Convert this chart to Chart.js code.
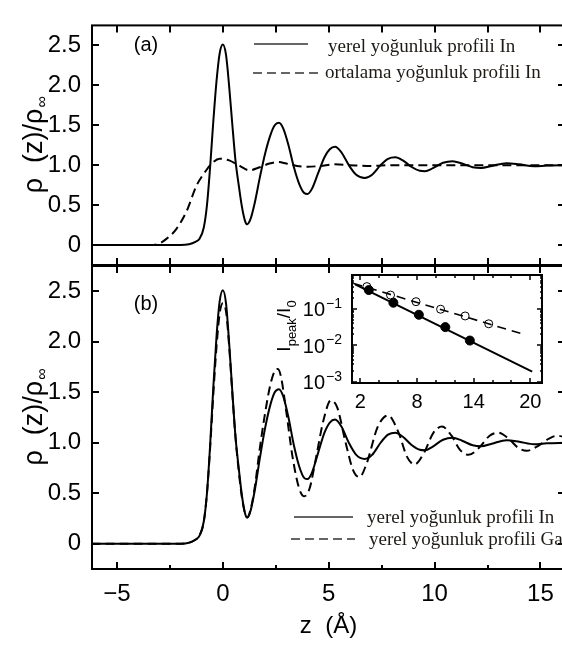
<!DOCTYPE html>
<html><head><meta charset="utf-8">
<script src="https://cdn.jsdelivr.net/npm/chart.js@4.4.0/dist/chart.umd.min.js"></script>
<style>
html,body{margin:0;padding:0;background:#fff;overflow:hidden;width:562px;height:647px;}
#wrap{position:relative;width:562px;height:647px;overflow:hidden;background:#fff;}
canvas{position:absolute;}
</style></head><body>
<div id="wrap">
<canvas id="cA" width="570" height="647" style="left:0;top:0"></canvas>
<canvas id="cB" width="570" height="647" style="left:0;top:0"></canvas>
<canvas id="cC" width="290" height="150" style="left:270px;top:265px"></canvas>
</div>
<script>
// ---- data ----
const zIn   = [-6.2,-2.0,-1.6,-1.3,-1.1,-0.9,-0.75,-0.6,-0.45,-0.3,-0.15,0,0.15,0.3,0.45,0.6,0.75,0.9,1.05,1.15,1.3,1.5,1.75,2.0,2.25,2.45,2.65,2.85,3.1,3.35,3.6,3.85,4.0,4.2,4.5,4.8,5.05,5.3,5.6,5.95,6.3,6.7,7.05,7.45,7.8,8.15,8.5,8.9,9.3,9.55,9.9,10.4,10.85,11.3,11.8,12.2,12.7,13.4,14.0,14.7,15.3,16.2];
const rhoIn = [0,0,0.01,0.04,0.08,0.22,0.5,0.98,1.55,2.05,2.4,2.51,2.38,1.98,1.5,1.05,0.75,0.48,0.3,0.26,0.32,0.52,0.85,1.15,1.38,1.5,1.53,1.46,1.25,0.98,0.77,0.65,0.64,0.7,0.9,1.1,1.2,1.23,1.16,1.0,0.88,0.84,0.88,1.0,1.08,1.1,1.06,0.98,0.93,0.925,0.96,1.03,1.05,1.02,0.975,0.965,0.99,1.025,1.01,0.985,0.995,1.0];

const zAvg   = [-6.2,-3.4,-3.0,-2.65,-2.2,-1.7,-1.25,-0.8,-0.45,-0.15,0.3,0.8,1.25,1.7,2.2,2.6,3.0,3.5,4.0,4.6,5.3,6.0,7.0,8.0,16.2];
const rhoAvg = [0,0,0.02,0.08,0.2,0.43,0.74,0.93,1.04,1.08,1.06,0.99,0.935,0.97,1.02,1.04,1.02,0.99,0.98,0.99,1.01,1.0,0.99,1.0,1.0];

const zGa   = [-6.2,-2.0,-1.6,-1.3,-1.1,-0.9,-0.75,-0.6,-0.45,-0.3,-0.15,0,0.15,0.3,0.45,0.6,0.75,0.9,1.05,1.15,1.3,1.5,1.75,2.0,2.25,2.45,2.6,2.75,3.0,3.3,3.6,3.85,4.1,4.4,4.75,5.1,5.4,5.8,6.15,6.45,6.8,7.3,7.8,8.3,8.7,9.05,9.5,9.95,10.35,10.8,11.2,11.6,12.1,12.6,13.0,13.5,13.95,14.35,14.9,15.4,15.8,16.2];
const rhoGa = [0,0,0.01,0.04,0.08,0.22,0.5,0.95,1.48,1.95,2.28,2.38,2.3,1.95,1.48,1.05,0.72,0.46,0.3,0.26,0.33,0.55,0.95,1.3,1.58,1.71,1.73,1.65,1.3,0.85,0.55,0.47,0.55,0.85,1.22,1.42,1.35,1.0,0.73,0.66,0.8,1.15,1.27,1.1,0.86,0.785,0.9,1.1,1.16,1.07,0.93,0.88,0.95,1.07,1.1,1.04,0.95,0.92,0.97,1.04,1.07,1.05];

// inset: peak intensities
const peakZIn = [2.9,5.5,8.2,11.0,13.6];
const peakIn  = [0.33,0.148,0.069,0.0316,0.0135];
const peakZGa = [2.7,5.2,7.9,10.5,13.1,15.6];
const peakGa  = [0.41,0.24,0.158,0.098,0.064,0.039];
const fitInX = [1.45,20.2];
const fitInY = [0.47,0.0019];
const fitGaX = [1.29,19.5];
const fitGaY = [0.50,0.0194];

// ticks
const xMajor = [-5,0,5,10,15];
const xMinor = [-2.5,2.5,7.5,12.5];
const yTicks = [0,0.5,1,1.5,2,2.5];
const insetXTicks = [2,8,14,20];
const insetXMinor = [4,6,10,12,16,18];
const insetYTicks = [0.1,0.01,0.001];
const insetYExp = ['\u22121','\u22122','\u22123'];

// legend / labels text
const legendA = ['yerel yoğunluk profili In','ortalama yoğunluk profili In'];
const legendB = ['yerel yoğunluk profili In','yerel yoğunluk profili Ga.'];

const SANS = '"Liberation Sans", Arial, sans-serif';
const SERIF = '"Liberation Serif", "Times New Roman", serif';
const pts = (xs, ys) => xs.map((x,i)=>({x:x, y:ys[i]}));

function lineDS(xs, ys, dash, w){
  return {data: pts(xs,ys), borderColor:'#000', borderWidth:w||2, pointRadius:0,
          borderDash: dash||[], cubicInterpolationMode:'monotone', fill:false};
}

function drawTicks(ctx, chart, spec){
  const a = chart.chartArea, xs = chart.scales.x, ys = chart.scales.y;
  ctx.save();
  ctx.strokeStyle = '#000';
  ctx.lineWidth = spec.tw || 2;
  ctx.beginPath();
  (spec.top||[]).forEach(([vals,len])=>vals.forEach(v=>{const x=Math.round(xs.getPixelForValue(v)); ctx.moveTo(x,a.top); ctx.lineTo(x,a.top+len);}));
  (spec.bottom||[]).forEach(([vals,len])=>vals.forEach(v=>{const x=Math.round(xs.getPixelForValue(v)); ctx.moveTo(x,a.bottom); ctx.lineTo(x,a.bottom-len);}));
  (spec.left||[]).forEach(([vals,len])=>vals.forEach(v=>{const y=Math.round(ys.getPixelForValue(v)); ctx.moveTo(a.left,y); ctx.lineTo(a.left+len,y);}));
  (spec.right||[]).forEach(([vals,len])=>vals.forEach(v=>{const y=Math.round(ys.getPixelForValue(v)); ctx.moveTo(a.right,y); ctx.lineTo(a.right-len,y);}));
  ctx.stroke();
  ctx.lineWidth = spec.fw || 2;
  ctx.strokeRect(a.left, a.top, a.right-a.left, a.bottom-a.top);
  ctx.restore();
}

function drawRho(ctx, bx, cy){
  ctx.save();
  ctx.translate(bx, cy);
  ctx.rotate(-Math.PI/2);
  ctx.fillStyle = '#000';
  ctx.textBaseline = 'alphabetic';
  const big = '27px ' + SANS, small = '16px ' + SANS;
  const t1 = 'ρ  (z)/ρ', t2 = '∞';
  ctx.font = big; const w1 = ctx.measureText(t1).width;
  ctx.font = small; const w2 = ctx.measureText(t2).width;
  let x0 = -(w1+w2)/2;
  ctx.font = big; ctx.textAlign = 'left'; ctx.fillText(t1, x0, 0);
  ctx.font = small; ctx.fillText(t2, x0 + w1 + 1, 5);
  ctx.restore();
}

function drawLegend(ctx, items){
  ctx.save();
  items.forEach(it=>{
    ctx.strokeStyle = '#333';
    ctx.lineWidth = 1.4;
    ctx.setLineDash(it.dash||[]);
    ctx.beginPath(); ctx.moveTo(it.x1, it.ly); ctx.lineTo(it.x2, it.ly); ctx.stroke();
    ctx.setLineDash([]);
    ctx.fillStyle = '#1e1a16';
    ctx.font = '19px ' + SERIF;
    ctx.textAlign = 'left'; ctx.textBaseline = 'alphabetic';
    ctx.fillText(it.text, it.tx, it.ty);
  });
  ctx.restore();
}

function panelLabel(ctx, txt, cx, cy){
  ctx.save();
  ctx.fillStyle = '#000';
  ctx.font = '20px ' + SANS;
  ctx.textAlign = 'center'; ctx.textBaseline = 'middle';
  ctx.fillText(txt, cx, cy);
  ctx.restore();
}

const commonY = {
  type:'linear', min:-0.25, max:2.75,
  afterFit(s){ s.width = 92; },
  afterBuildTicks(s){ s.ticks = yTicks.map(v=>({value:v})); },
  ticks:{ autoSkip:false, color:'#000', padding:11, font:{family:SANS, size:24},
          callback:(v)=> v===0 ? '0' : Number(v).toFixed(1) },
  grid:{ display:false, drawTicks:false }, border:{ display:false }
};

// ---- panel (a) ----
new Chart(document.getElementById('cA'), {
  type:'line',
  data:{ datasets:[ lineDS(zIn, rhoIn, [], 2), lineDS(zAvg, rhoAvg, [9,5], 2) ] },
  options:{
    responsive:false, animation:false, devicePixelRatio:1,
    layout:{ padding:{ top:5, right:5, left:0, bottom:0 } },
    plugins:{ legend:{display:false}, tooltip:{enabled:false} },
    scales:{
      x:{ type:'linear', min:-6.18, max:16.16,
          afterFit(s){ s.height = 382; },
          ticks:{ display:false }, grid:{ display:false, drawTicks:false }, border:{ display:false } },
      y: Object.assign({}, commonY)
    }
  },
  plugins:[{ id:'decoA', afterDraw(chart){
    const ctx = chart.ctx;
    drawTicks(ctx, chart, {
      top:[[xMajor.concat(xMinor),7]], bottom:[[xMajor.concat(xMinor),7]],
      left:[[yTicks,7]], right:[[yTicks,7]] });
    drawRho(ctx, 42, (chart.chartArea.top+chart.chartArea.bottom)/2);
    panelLabel(ctx, '(a)', 146, 45);
    drawLegend(ctx, [
      {x1:254, x2:308, ly:44, dash:[], text:legendA[0], tx:328, ty:52},
      {x1:253, x2:318, ly:73, dash:[9,5], text:legendA[1], tx:325, ty:78}
    ]);
  }}]
});

// ---- panel (b) ----
new Chart(document.getElementById('cB'), {
  type:'line',
  data:{ datasets:[ lineDS(zIn, rhoIn, [], 2), lineDS(zGa, rhoGa, [9,5], 2) ] },
  options:{
    responsive:false, animation:false, devicePixelRatio:1,
    layout:{ padding:{ top:266, right:5, left:0, bottom:0 } },
    plugins:{ legend:{display:false}, tooltip:{enabled:false} },
    scales:{
      x:{ type:'linear', min:-6.18, max:16.16,
          afterFit(s){ s.height = 78; },
          afterBuildTicks(s){ s.ticks = xMajor.map(v=>({value:v})); },
          ticks:{ autoSkip:false, maxRotation:0, color:'#000', padding:11, font:{family:SANS, size:24},
                  callback:(v)=> v<0 ? '\u2212'+Math.abs(v) : String(v) },
          title:{ display:true, text:'z  (Å)', color:'#000', font:{family:SANS, size:24}, padding:{top:0,bottom:6} },
          grid:{ display:false, drawTicks:false }, border:{ display:false } },
      y: Object.assign({}, commonY)
    }
  },
  plugins:[{ id:'decoB', afterDraw(chart){
    const ctx = chart.ctx;
    drawTicks(ctx, chart, {
      top:[[xMajor.concat(xMinor),7]], bottom:[[xMajor,7],[xMinor,4]],
      left:[[yTicks,7]], right:[[yTicks,7]] });
    drawRho(ctx, 42, (chart.chartArea.top+chart.chartArea.bottom)/2);
    panelLabel(ctx, '(b)', 146, 304);
    drawLegend(ctx, [
      {x1:294, x2:353, ly:517, dash:[], text:legendB[0], tx:367, ty:523},
      {x1:291, x2:355, ly:539, dash:[9,5], text:legendB[1], tx:369, ty:545}
    ]);
  }}]
});

// ---- inset ----
new Chart(document.getElementById('cC'), {
  type:'line',
  data:{ datasets:[
    {data:pts(fitInX,fitInY), borderColor:'#000', borderWidth:2, pointRadius:0, fill:false},
    {data:pts(fitGaX,fitGaY), borderColor:'#000', borderWidth:1.6, borderDash:[9,6], pointRadius:0, fill:false},
    {data:pts(peakZIn,peakIn), showLine:false, pointRadius:4.5, pointBackgroundColor:'#000', pointBorderColor:'#000', pointBorderWidth:1},
    {data:pts(peakZGa,peakGa), showLine:false, pointRadius:4, pointBackgroundColor:'rgba(0,0,0,0)', pointBorderColor:'#000', pointBorderWidth:1}
  ]},
  options:{
    responsive:false, animation:false, devicePixelRatio:1,
    layout:{ padding:{ top:10, right:18, left:0, bottom:0 } },
    plugins:{ legend:{display:false}, tooltip:{enabled:false} },
    scales:{
      x:{ type:'linear', min:1.12, max:21.24,
          afterFit(s){ s.height = 32; },
          afterBuildTicks(s){ s.ticks = insetXTicks.map(v=>({value:v})); },
          ticks:{ autoSkip:false, maxRotation:0, color:'#000', padding:7, font:{family:SANS, size:20} },
          grid:{ display:false, drawTicks:false }, border:{ display:false } },
      y:{ type:'logarithmic', min:0.00092, max:0.855,
          afterFit(s){ s.width = 82; },
          afterBuildTicks(s){ s.ticks = insetYTicks.map(v=>({value:v})); },
          ticks:{ display:false },
          grid:{ display:false, drawTicks:false }, border:{ display:false } }
    }
  },
  plugins:[{ id:'decoC',
    beforeDatasetsDraw(chart){
      const a = chart.chartArea, ctx = chart.ctx;
      ctx.save(); ctx.fillStyle = '#fff'; ctx.fillRect(a.left, a.top, a.right-a.left, a.bottom-a.top); ctx.restore();
    },
    afterDraw(chart){
      const ctx = chart.ctx, ys = chart.scales.y;
      const minor = [];
      [0.001,0.01,0.1].forEach(d=>{ for(let k=2;k<=9;k++){ const v=d*k; if(v<0.855) minor.push(v);} });
      drawTicks(ctx, chart, { tw:1.5, fw:2,
        top:[[insetXTicks,5],[insetXMinor,3]], bottom:[[insetXTicks,5],[insetXMinor,3]],
        left:[[insetYTicks,5],[minor,2]], right:[[insetYTicks,5],[minor,2]] });
      // y tick labels 10^n
      ctx.save(); ctx.fillStyle = '#000';
      insetYTicks.forEach((v,i)=>{
        const y = ys.getPixelForValue(v);
        ctx.font = '20px ' + SANS; ctx.textAlign = 'right'; ctx.textBaseline = 'middle';
        ctx.fillText('10', 55, y+2);
        ctx.font = '14px ' + SANS; ctx.textAlign = 'left'; ctx.textBaseline = 'alphabetic';
        ctx.fillText(insetYExp[i], 56, y-1);
      });
      // y title I_peak / I_0
      ctx.translate(20, 61); ctx.rotate(-Math.PI/2);
      const parts = [['I','19px',0],['peak','13px',6],['/I','19px',0],['0','13px',6]];
      let w = 0; parts.forEach(p=>{ ctx.font = p[1]+' '+SANS; w += ctx.measureText(p[0]).width; });
      let x = -w/2; ctx.textAlign='left'; ctx.textBaseline='alphabetic';
      parts.forEach(p=>{ ctx.font = p[1]+' '+SANS; ctx.fillText(p[0], x, p[2]); x += ctx.measureText(p[0]).width; });
      ctx.restore();
    }
  }]
});
</script>
</body></html>
